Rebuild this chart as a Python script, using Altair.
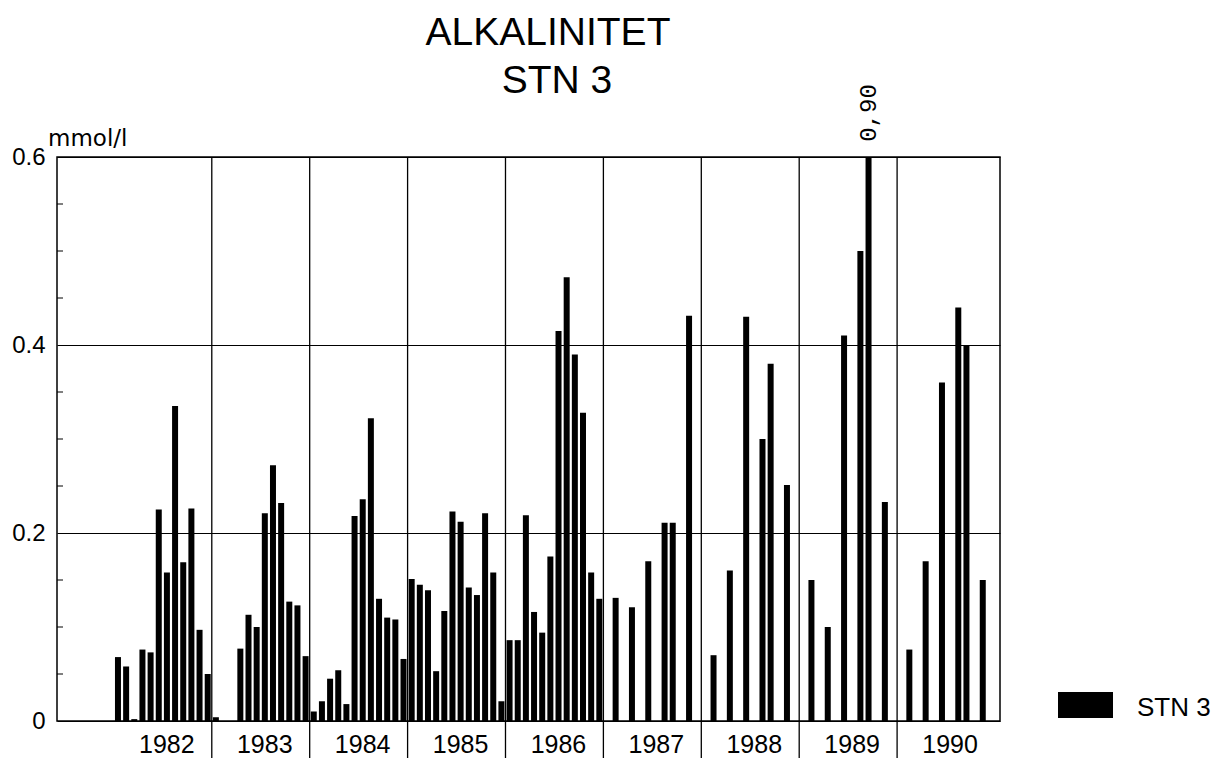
import altair as alt
import pandas as pd

# ---- data ----
years = [1982, 1983, 1984, 1985, 1986, 1987, 1988, 1989, 1990]

months_1982 = [1, 2, 3, 4, 5, 6, 7, 8, 9, 10, 11, 12]
vals_1982 = [0.068, 0.058, 0.002, 0.076, 0.073, 0.225, 0.158, 0.335, 0.169, 0.226, 0.097, 0.050]

months_1983 = [1, 4, 5, 6, 7, 8, 9, 10, 11, 12]
vals_1983 = [0.004, 0.077, 0.113, 0.100, 0.221, 0.272, 0.232, 0.127, 0.123, 0.069]

months_1984 = [1, 2, 3, 4, 5, 6, 7, 8, 9, 10, 11, 12]
vals_1984 = [0.010, 0.021, 0.045, 0.054, 0.018, 0.218, 0.236, 0.322, 0.130, 0.110, 0.108, 0.066]

months_1985 = [1, 2, 3, 4, 5, 6, 7, 8, 9, 10, 11, 12]
vals_1985 = [0.151, 0.145, 0.139, 0.053, 0.117, 0.223, 0.212, 0.142, 0.134, 0.221, 0.158, 0.021]

months_1986 = [1, 2, 3, 4, 5, 6, 7, 8, 9, 10, 11, 12]
vals_1986 = [0.086, 0.086, 0.219, 0.116, 0.094, 0.175, 0.415, 0.472, 0.390, 0.328, 0.158, 0.130]

months_1987 = [2, 4, 6, 8, 9, 11]
vals_1987 = [0.131, 0.121, 0.170, 0.211, 0.211, 0.431]

months_1988 = [2, 4, 6, 8, 9, 11]
vals_1988 = [0.070, 0.160, 0.430, 0.300, 0.380, 0.251]

months_1989 = [2, 4, 6, 8, 9, 11]
vals_1989 = [0.150, 0.100, 0.410, 0.500, 0.90, 0.233]

months_1990 = [2, 4, 6, 8, 9, 11]
vals_1990 = [0.076, 0.170, 0.360, 0.440, 0.400, 0.150]

y_ticks = [0, 0.2, 0.4, 0.6]
y_minor = [0.05, 0.1, 0.15, 0.25, 0.3, 0.35, 0.45, 0.5, 0.55]

title_1 = "ALKALINITET"
title_2 = "STN 3"
unit_label = "mmol/l"
series_name = "STN 3"

# ---- build table ----
series = [
    (1982, months_1982, vals_1982), (1983, months_1983, vals_1983),
    (1984, months_1984, vals_1984), (1985, months_1985, vals_1985),
    (1986, months_1986, vals_1986), (1987, months_1987, vals_1987),
    (1988, months_1988, vals_1988), (1989, months_1989, vals_1989),
    (1990, months_1990, vals_1990),
]
rows = []
for yr, ms, vs in series:
    for m, v in zip(ms, vs):
        rows.append({"t": yr + (m - 0.5) / 12.0, "v": v})
df = pd.DataFrame(rows)

Y_MAX = 0.6
over = df[df["v"] > Y_MAX].copy()
over["lab"] = over["v"].map(lambda v: f"{v:.2f}".replace(".", ","))

W, H = 943, 564
xs = alt.Scale(domain=[1981.47, 1991.0], nice=False, zero=False)
ys = alt.Scale(domain=[0, Y_MAX], nice=False)
FONT = "Liberation Sans"

yaxis = alt.Axis(
    values=y_ticks, title=None, grid=True, gridColor="black", gridWidth=1,
    gridOpacity=1, tickSize=0, domain=False, labelFont=FONT, labelFontSize=24,
    labelColor="black", labelPadding=12,
    labelExpr="datum.value == 0 ? '0' : format(datum.value, '.1f')",
)

bars = alt.Chart(df).mark_bar(color="black", size=6, clip=True).encode(
    x=alt.X("t:Q", scale=xs, axis=None),
    y=alt.Y("v:Q", scale=ys, axis=yaxis),
)

minor = alt.Chart(pd.DataFrame({"v": y_minor})).mark_rule(color="black", strokeWidth=1).encode(
    y=alt.Y("v:Q", scale=ys, axis=yaxis),
    x=alt.value(0), x2=alt.value(6),
)

year_lines = alt.Chart(pd.DataFrame({"t": years[1:]})).mark_rule(color="black", strokeWidth=1.3).encode(
    x=alt.X("t:Q", scale=xs, axis=None),
    y=alt.value(0), y2=alt.value(H + 37),
)

year_df = pd.DataFrame({"t": [y + 0.5 for y in years], "lab": [str(y) for y in years]})
year_labels = alt.Chart(year_df).mark_text(
    font=FONT, fontSize=25, color="black", align="center", baseline="middle", dx=4
).encode(
    x=alt.X("t:Q", scale=xs, axis=None),
    y=alt.value(H + 24),
    text="lab:N",
)

over_label = alt.Chart(over).mark_text(
    font="Liberation Mono", fontSize=24, color="black", angle=270,
    align="center", baseline="middle"
).encode(
    x=alt.X("t:Q", scale=xs, axis=None),
    y=alt.value(-44),
    text="lab:N",
)

def txt(s, x, y, size, align="center", font=FONT):
    return alt.Chart(alt.Data(values=[{"s": s}])).mark_text(
        font=font, fontSize=size, color="black", align=align, baseline="middle"
    ).encode(text="s:N", x=alt.value(x), y=alt.value(y))

t1 = txt(title_1, 491, -124, 39)
t2 = txt(title_2, 500, -76, 39)
unit = txt(unit_label, -9, -18, 23, align="left", font="DejaVu Sans")

legend_box = alt.Chart(alt.Data(values=[{"s": series_name}])).mark_rect(color="black").encode(
    x=alt.value(1001), x2=alt.value(1056), y=alt.value(535), y2=alt.value(561)
)
legend_txt = txt(series_name, 1080, 551, 26, align="left")

chart = alt.layer(
    bars, minor, year_lines, year_labels, over_label, t1, t2, unit, legend_box, legend_txt
).properties(
    width=W, height=H,
    autosize=alt.AutoSizeParams(type="none"),
    padding={"left": 57, "top": 157, "right": 215, "bottom": 39},
    background="white",
).configure_view(stroke="black", strokeWidth=1.5)

chart.save("out.html", embed_options={"renderer": "svg", "actions": False})
